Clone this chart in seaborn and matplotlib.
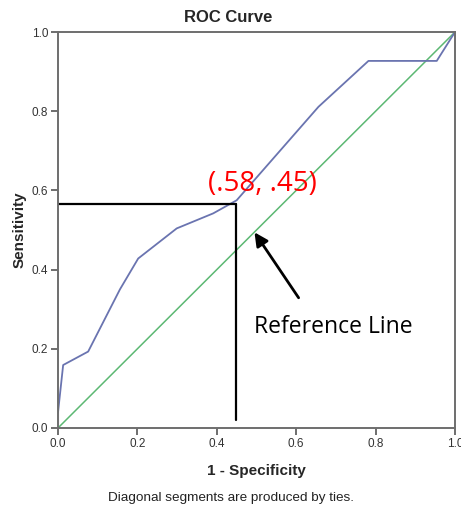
import matplotlib
matplotlib.use("Agg")
import matplotlib.pyplot as plt
import seaborn as sns
import pandas as pd

# ROC curve points (1 - specificity, sensitivity)
fpr = [0.0, 0.0, 0.013, 0.076, 0.156, 0.202, 0.299, 0.391, 0.45, 0.656, 0.782, 0.954, 1.0]
tpr = [0.0, 0.078, 0.159, 0.193, 0.35, 0.428, 0.504, 0.542, 0.575, 0.811, 0.927, 0.927, 1.0]
ref_x = [0.0, 1.0]
ref_y = [0.0, 1.0]
cut_x = 0.448
cut_y = 0.566
ticks = [0.0, 0.2, 0.4, 0.6, 0.8, 1.0]
tick_labels = ["0.0", "0.2", "0.4", "0.6", "0.8", "1.0"]

sns.set_theme(style="white")
plt.rcParams['font.family'] = ['Liberation Sans', 'DejaVu Sans']

fig = plt.figure(figsize=(4.61, 5.08), dpi=100)
ax = fig.add_axes([0.1258, 0.1575, 0.8612, 0.7795])

roc = pd.DataFrame({"x": fpr, "y": tpr})
ref = pd.DataFrame({"x": ref_x, "y": ref_y})
sns.lineplot(data=ref, x="x", y="y", ax=ax, color="#5cb873", lw=1.1, sort=False)
sns.lineplot(data=roc, x="x", y="y", ax=ax, color="#6a74b0", lw=1.3, sort=False)

# cutoff lines
ax.plot([0, cut_x], [cut_y, cut_y], color="black", lw=1.6)
ax.plot([cut_x, cut_x], [cut_y, 0.02], color="black", lw=1.6)

ax.text(0.514, 0.615, "(.58, .45)", color="#ff0000", fontsize=20, ha="center", va="center",
        family=["Open Sans", "DejaVu Sans"])
ax.annotate("", xy=(0.491, 0.50), xytext=(0.61, 0.323),
            arrowprops=dict(arrowstyle="-|>", color="black", lw=2, mutation_scale=20))
ax.text(0.494, 0.255, "Reference Line", color="black", fontsize=16.5, ha="left", va="center",
        family=["Open Sans", "DejaVu Sans"])

ax.set_xlim(0, 1)
ax.set_ylim(0, 1)
ax.set_xticks(ticks)
ax.set_xticklabels(tick_labels)
ax.set_yticks(ticks)
ax.set_yticklabels(tick_labels)
ax.tick_params(axis="both", which="both", direction="out", length=5, width=1.2, color="#555555",
               labelsize=8.5, labelcolor="#333333", pad=2, bottom=True, left=True)
for s in ax.spines.values():
    s.set_color("#6e6e6e")
    s.set_linewidth(1.4)

fig.text(0.495, 0.966, "ROC Curve", fontsize=12, fontweight="bold", ha="center", va="center")
ax.set_xlabel("1 - Specificity", fontsize=11, fontweight="bold", labelpad=10)
ax.set_ylabel("Sensitivity", fontsize=11, fontweight="bold", labelpad=4)
fig.text(0.5, 0.019, "Diagonal segments are produced by ties.", ha="center", va="center", fontsize=9.7,
         color="#222222")

fig.savefig("out.png", dpi=100)
